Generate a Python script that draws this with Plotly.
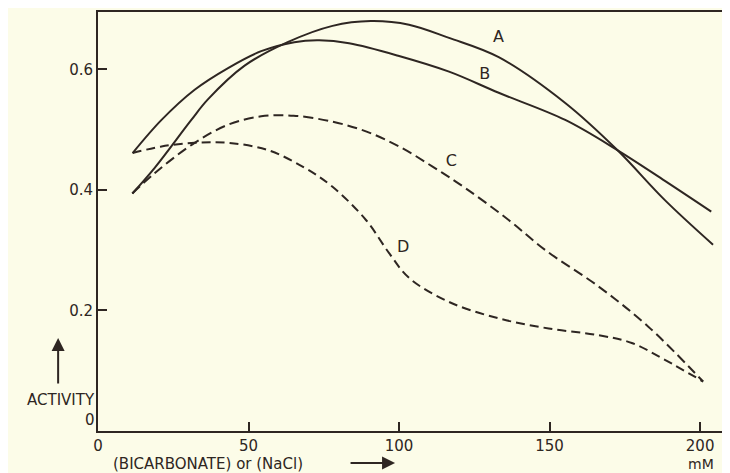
import plotly.graph_objects as go

# Curve data
a_x = [11.4, 18.9, 31.0, 36.5, 48.7, 63.0, 77.9, 90.6, 103.3, 116.6, 133.1, 155.2, 172.5, 188.3, 204.3]
a_y = [0.394, 0.437, 0.516, 0.550, 0.606, 0.645, 0.672, 0.680, 0.674, 0.652, 0.620, 0.544, 0.466, 0.383, 0.309]

b_x = [11.5, 21.1, 32.1, 43.2, 54.2, 65.2, 73.5, 83.4, 100.0, 116.6, 133.1, 155.2, 172.5, 188.3, 203.7]
b_y = [0.461, 0.516, 0.566, 0.602, 0.630, 0.645, 0.648, 0.643, 0.622, 0.596, 0.561, 0.516, 0.466, 0.415, 0.364]

c_x = [11.4, 18.9, 32.1, 43.2, 54.2, 65.0, 77.9, 89.0, 100.0, 111.0, 122.0, 136.4, 148.6, 166.2, 182.8, 201.0]
c_y = [0.394, 0.428, 0.478, 0.508, 0.522, 0.523, 0.513, 0.497, 0.472, 0.439, 0.403, 0.350, 0.300, 0.240, 0.173, 0.082]

d_x = [11.5, 21.1, 32.1, 43.2, 56.4, 68.5, 77.9, 89.0, 96.7, 103.3, 116.6, 133.0, 149.7, 166.2, 177.3, 188.3, 201.0]
d_y = [0.461, 0.472, 0.478, 0.478, 0.466, 0.437, 0.405, 0.350, 0.295, 0.254, 0.214, 0.187, 0.170, 0.159, 0.146, 0.118, 0.082]

x_ticks = [0, 50, 100, 150, 200]
y_ticks = [0.2, 0.4, 0.6]
y_tick_text = ["0.2", "0.4", "0.6"]

curve_labels = ["A", "B", "C", "D"]
label_x = [133.0, 128.5, 117.4, 101.4]
label_y = [0.652, 0.591, 0.447, 0.303]

INK = "#2e2622"
BG = "#fcfce8"
FONT = "DejaVu Sans"

fig = go.Figure()
for xs, ys, dash in [(a_x, a_y, "solid"), (b_x, b_y, "solid"),
                     (c_x, c_y, "10px,5px"), (d_x, d_y, "9px,5px")]:
    fig.add_trace(go.Scatter(x=xs, y=ys, mode="lines",
                             line=dict(color=INK, width=2, dash=dash, shape="spline", smoothing=1.0),
                             showlegend=False, hoverinfo="skip"))

fig.add_trace(go.Scatter(x=label_x, y=label_y, mode="text", text=curve_labels,
                         textfont=dict(family=FONT, size=16, color=INK),
                         showlegend=False, hoverinfo="skip"))

fig.update_xaxes(range=[0, 208.6], tickvals=x_ticks, ticks="inside", ticklen=9, tickwidth=1.5,
                 tickcolor=INK, showline=True, linecolor=INK, linewidth=2, mirror=True,
                 showgrid=False, zeroline=False,
                 tickfont=dict(family=FONT, size=15, color=INK))
fig.update_yaxes(range=[0, 0.695], tickvals=y_ticks, ticktext=y_tick_text, ticks="inside", ticklen=9,
                 tickwidth=1.5, tickcolor=INK, showline=True, linecolor=INK, linewidth=2, mirror=True,
                 showgrid=False, zeroline=False,
                 tickfont=dict(family=FONT, size=15, color=INK))

# plot area in page pixels: x 98..728, y 12..431 (page body has an 8px margin)
annotations = [
    dict(text="0", xref="paper", yref="y", x=0, y=0, xanchor="right", yanchor="bottom",
         xshift=-1, yshift=0, showarrow=False, font=dict(family=FONT, size=15, color=INK)),
    dict(text="ACTIVITY", xref="paper", yref="y", x=0, y=(431 - 400) / 602.5, xanchor="right",
         yanchor="middle", xshift=-1, showarrow=False, font=dict(family=FONT, size=15, color=INK)),
    dict(text="", xref="paper", yref="y", x=(58 - 98) / 630, y=(431 - 338) / 602.5,
         ax=0, ay=47, showarrow=True, arrowhead=2, arrowsize=1.3, arrowwidth=2, arrowcolor=INK),
    dict(text="(BICARBONATE) or (NaCl)", xref="paper", yref="paper", x=(111 - 98) / 630,
         y=(431 - 464) / 419, xanchor="left", yanchor="middle", showarrow=False,
         font=dict(family=FONT, size=15, color=INK)),
    dict(text="", xref="paper", yref="paper", x=(396 - 98) / 630, y=(431 - 463) / 419,
         ax=-46, ay=0, showarrow=True, arrowhead=2, arrowsize=1.3, arrowwidth=2, arrowcolor=INK),
    dict(text="mM", xref="paper", yref="paper", x=(703 - 98) / 630, y=(431 - 464) / 419,
         xanchor="center", yanchor="middle", showarrow=False,
         font=dict(family=FONT, size=14, color=INK)),
]

fig.update_layout(width=722, height=465, margin=dict(l=90, r=2, t=4, b=42),
                  paper_bgcolor=BG, plot_bgcolor=BG, annotations=annotations)

fig.write_html("out.html")
